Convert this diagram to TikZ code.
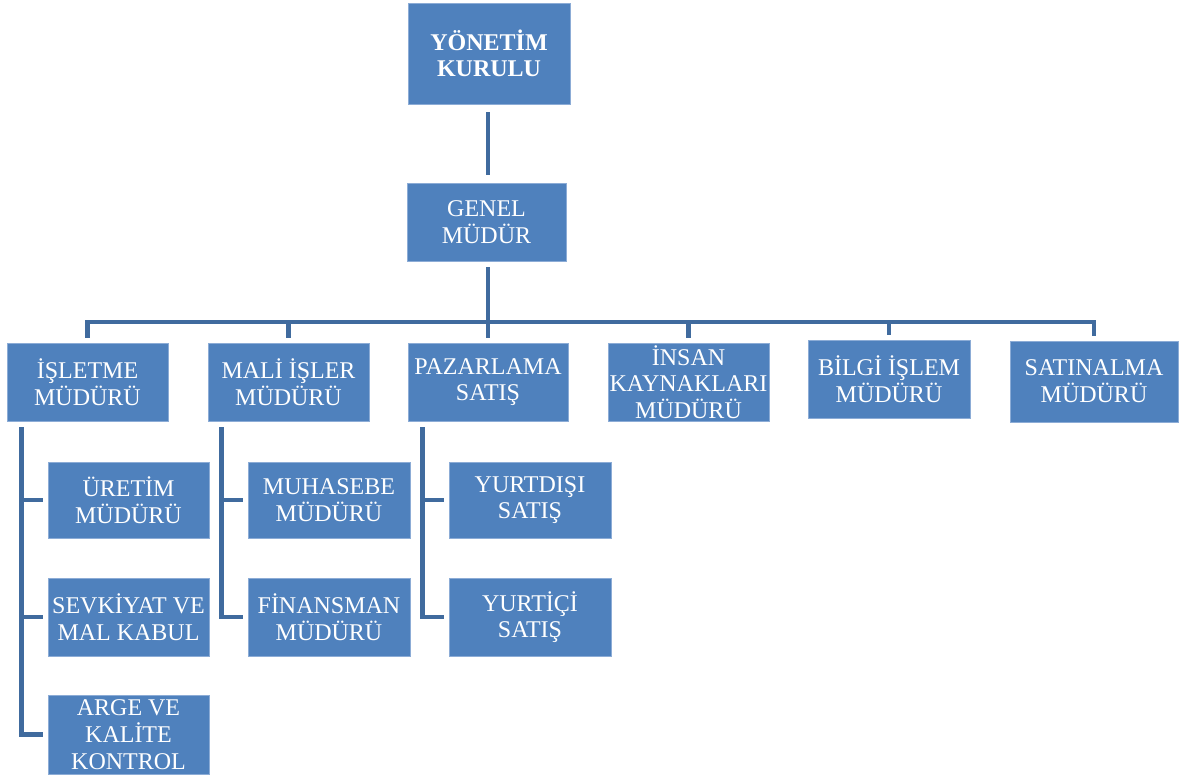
\documentclass[tikz,border=0pt]{standalone}
\usepackage{fontspec}
\setmainfont{Liberation Serif}
\definecolor{boxblue}{RGB}{79,129,189}
\definecolor{boxedge}{RGB}{140,172,214}
\definecolor{linkblue}{RGB}{64,107,158}
\tikzset{
  unit/.style={fill=boxblue, draw=boxedge, line width=0.6pt, text=white,
    align=center, inner sep=0pt, minimum width=161pt, minimum height=78pt,
    font=\fontsize{24}{26.7}\selectfont},
  topunit/.style={unit, font=\fontsize{24}{25.7}\selectfont\bfseries},
  conn/.style={draw=linkblue, line width=4.6pt, line join=miter, line cap=butt}
}
\begin{document}
\begin{tikzpicture}[x=1pt,y=-1pt]
\useasboundingbox (0,0) rectangle (1198,778);

% top management
\node[topunit, minimum width=162pt, minimum height=101pt] (yk) at (489,53.5) {YÖNETİM\\KURULU};
\node[unit, minimum width=159pt] (gm) at (486.5,222) {GENEL\\MÜDÜR};

% department heads
\node[unit] (isl)  at (87.5,382)  {İŞLETME\\MÜDÜRÜ};
\node[unit] (mali) at (288.5,382) {MALİ İŞLER\\MÜDÜRÜ};
\node[unit, minimum width=160pt] (paz) at (488,382) {PAZARLAMA\\SATIŞ};
\node[unit] (ik)   at (688.5,382) {İNSAN\\KAYNAKLARI\\MÜDÜRÜ};
\node[unit, minimum width=162pt] (bil) at (889,379) {BİLGİ İŞLEM\\MÜDÜRÜ};
\node[unit, minimum width=168pt, minimum height=81pt] (sat) at (1094,381.5) {SATINALMA\\MÜDÜRÜ};

% sub units
\node[unit, minimum height=76pt] (ur)   at (128.5,500)   {ÜRETİM\\MÜDÜRÜ};
\node[unit] (sev)  at (128.5,617)   {SEVKİYAT VE\\MAL KABUL};
\node[unit, minimum height=79pt] (arge) at (128.5,734.5) {ARGE VE\\KALİTE\\KONTROL};
\node[unit, minimum width=162pt, minimum height=76pt] (muh) at (329,500) {MUHASEBE\\MÜDÜRÜ};
\node[unit, minimum width=162pt] (fin) at (329,617) {FİNANSMAN\\MÜDÜRÜ};
\node[unit, minimum width=162pt, minimum height=76pt] (yd) at (530,500) {YURTDIŞI\\SATIŞ};
\node[unit, minimum width=162pt] (yi) at (530,617) {YURTİÇİ\\SATIŞ};

% board to general manager
\draw[conn] ([yshift=-8pt]yk.south -| 488,0) -- ([yshift=8pt]gm.north -| 488,0);

% general manager down through the bus
\coordinate (bus) at (0,322);
\draw[conn] ([yshift=-6pt]gm.south -| paz.north) -- ([yshift=5pt]paz.north);
\draw[conn] ([yshift=5pt]isl.north) -- (isl.north |- bus) -- (sat.north |- bus) -- ([yshift=5pt]sat.north);
\draw[conn] (mali.north |- bus) -- ([yshift=5pt]mali.north);
\draw[conn] (ik.north |- bus) -- ([yshift=5pt]ik.north);
\draw[conn] (bil.north |- bus) -- ([yshift=5pt]bil.north);

% department branches
\draw[conn] ([xshift=15pt,yshift=-6pt]isl.south west) |- ([xshift=-5pt]arge.west);
\draw[conn] ([xshift=15pt]isl.south west |- ur.west) -- ([xshift=-5pt]ur.west);
\draw[conn] ([xshift=15pt]isl.south west |- sev.west) -- ([xshift=-5pt]sev.west);

\draw[conn] ([xshift=14pt,yshift=-6pt]mali.south west) |- ([xshift=-5pt]fin.west);
\draw[conn] ([xshift=14pt]mali.south west |- muh.west) -- ([xshift=-5pt]muh.west);

\draw[conn] ([xshift=15pt,yshift=-6pt]paz.south west) |- ([xshift=-5pt]yi.west);
\draw[conn] ([xshift=15pt]paz.south west |- yd.west) -- ([xshift=-5pt]yd.west);
\end{tikzpicture}
\end{document}
